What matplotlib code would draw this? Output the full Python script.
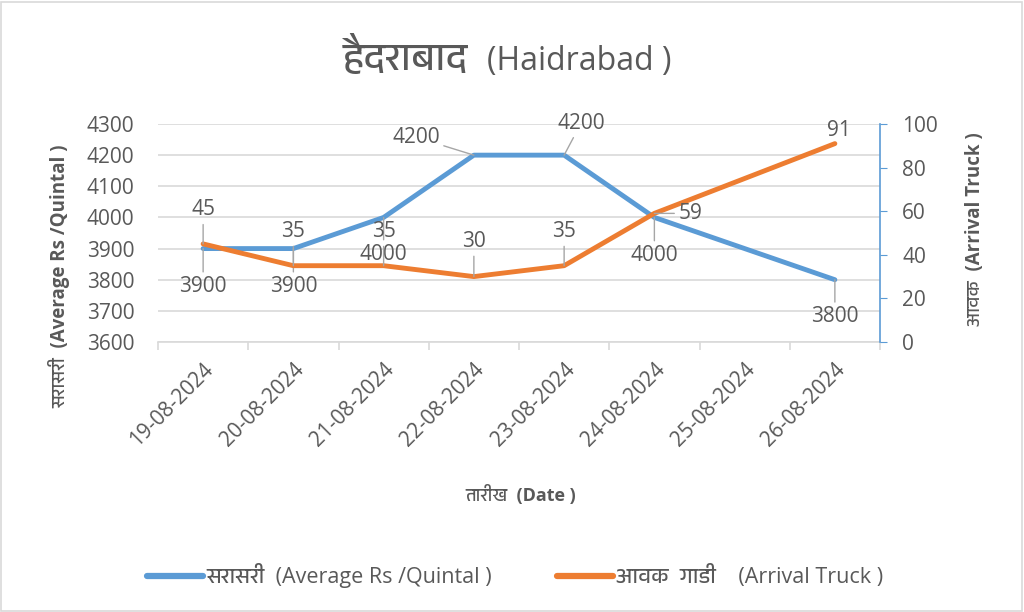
import numpy as np
import matplotlib
matplotlib.use("Agg")
import matplotlib.pyplot as plt
from matplotlib import font_manager
from matplotlib.ft2font import FT2Font
from matplotlib.patches import Rectangle

# data
dates = ["19-08-2024", "20-08-2024", "21-08-2024", "22-08-2024",
         "23-08-2024", "24-08-2024", "25-08-2024", "26-08-2024"]
avg_price = [3900, 3900, 4000, 4200, 4200, 4000, None, 3800]   # Rs / Quintal
arrivals = [45, 35, 35, 30, 35, 59, None, 91]                  # trucks

title_hi = "हैदराबाद"
title_en = "(Haidrabad )"
xlabel = "तारीख  (Date )"
ylabel_left = "सरासरी  (Average Rs /Quintal )"
ylabel_right = "आवक  (Arrival Truck )"
legend_labels = ["सरासरी  (Average Rs /Quintal )", "आवक  गाडी    (Arrival Truck )"]

# label offsets in pixels (dx, dy) and whether a leader line is drawn
price_lbl = [(0, -38, 1), (0, -38, 1), (0, -37, 1), (-58, 18, 1),
             (17, 32, 1), (0, -38, 1), None, (0, -37, 1)]
arr_lbl = [(0, 34, 1), (0, 34, 1), (0, 34, 1), (0, 35, 1),
           (0, 34, 1), (36, 0, 1), None, (4, 13, 0)]


def find_deva():
    found = []
    for f in font_manager.fontManager.ttflist:
        try:
            if FT2Font(f.fname).get_char_index(ord("स")):
                found.append(f.name)
        except Exception:
            pass
    for name in found:
        if "Devanagari" in name or "Noto" in name:
            return name
    return found[0] if found else None


deva = find_deva()
fams = ["Open Sans"] + ([deva] if deva else []) + ["DejaVu Sans"]
plt.rcParams["font.family"] = fams

grey = "#595959"
blue = "#5B9BD5"
orange = "#ED7D31"
light = "#D9D9D9"
fs = 15

fig = plt.figure(figsize=(10.24, 6.12), dpi=100)
fig.patches.append(Rectangle((0.001, 0.002), 0.997, 0.995, transform=fig.transFigure,
                             fill=False, edgecolor=light, lw=1.2))

ax = fig.add_axes([158 / 1024, 1 - 342 / 612, 722 / 1024, 218 / 612])
ax2 = ax.twinx()

n = len(dates)
xc = np.arange(n) + 0.5

px = [xc[i] for i in range(n) if avg_price[i] is not None]
py = [v for v in avg_price if v is not None]
ax.plot(px, py, color=blue, lw=3.5, solid_capstyle="round", solid_joinstyle="round", zorder=3)

ax_x = [xc[i] for i in range(n) if arrivals[i] is not None]
ax_y = [v for v in arrivals if v is not None]
ax2.plot(ax_x, ax_y, color=orange, lw=3.5, solid_capstyle="round", solid_joinstyle="round", zorder=3)

ax.set_xlim(0, n)
ax.set_ylim(3600, 4300)
ax.set_yticks(np.arange(3600, 4301, 100))
ax2.set_ylim(0, 100)
ax2.set_yticks(np.arange(0, 101, 20))

ax.grid(axis="y", color=light, lw=1.2)
ax.set_axisbelow(True)

ax.set_xticks(np.arange(0, n + 1))
ax.set_xticklabels([])
ax.set_xticks(xc, minor=True)
ax.set_xticklabels(dates, minor=True, rotation=45, ha="right", rotation_mode="anchor",
                   fontsize=fs, color=grey)
ax.tick_params(axis="x", which="major", length=6, color=light, width=1.2)
ax.tick_params(axis="x", which="minor", length=0, pad=12)
ax.tick_params(axis="y", length=0, labelsize=fs, labelcolor=grey, pad=17)
ax2.tick_params(axis="y", length=5, color=blue, labelsize=fs, labelcolor=grey, pad=11)

for s in ["top", "left", "right"]:
    ax.spines[s].set_visible(False)
for s in ["top", "left", "bottom"]:
    ax2.spines[s].set_visible(False)
ax.spines["bottom"].set_color(light)
ax.spines["bottom"].set_linewidth(1.2)
ax2.spines["right"].set_color(blue)
ax2.spines["right"].set_linewidth(1.2)


def labels(axis, vals, offs):
    for i, v in enumerate(vals):
        if v is None:
            continue
        dx, dy, lead = offs[i]
        axis.annotate(str(v), (xc[i], v), xytext=(dx, dy), textcoords="offset pixels",
                      ha="center", va="center", fontsize=fs, color=grey, zorder=5,
                      arrowprops=dict(arrowstyle="-", color="#A6A6A6", lw=1,
                                      shrinkA=1, shrinkB=0) if lead else None)


labels(ax, avg_price, price_lbl)
labels(ax2, arrivals, arr_lbl)

# title: devanagari part a bit larger, as in the original
fig.text(468 / 1024, 1 - 70 / 612, title_hi, ha="right", va="baseline", fontsize=28, color=grey)
fig.text(487 / 1024, 1 - 70 / 612, title_en, ha="left", va="baseline", fontsize=23, color=grey)

ax.set_ylabel(ylabel_left, fontsize=13.5, fontweight="bold", color=grey)
ax.yaxis.set_label_coords(-0.121, 0.3)
ax2.set_ylabel(ylabel_right, fontsize=13.5, fontweight="bold", color=grey, rotation=90)
ax2.yaxis.set_label_coords(1.118, 0.52)
fig.text(521 / 1024, 1 - 495 / 612, xlabel, ha="center", va="center",
         fontsize=13, fontweight="bold", color=grey)

h1 = plt.Line2D([], [], color=blue, lw=4.5, solid_capstyle="round")
h2 = plt.Line2D([], [], color=orange, lw=4.5, solid_capstyle="round")
leg = fig.legend([h1, h2], legend_labels, loc="center", bbox_to_anchor=(515 / 1024, 1 - 576 / 612),
                 ncol=2, frameon=False, fontsize=15.5, handlelength=2.6, handletextpad=0.15,
                 columnspacing=3.0)
for t in leg.get_texts():
    t.set_color(grey)

fig.savefig("out.png", dpi=100)
